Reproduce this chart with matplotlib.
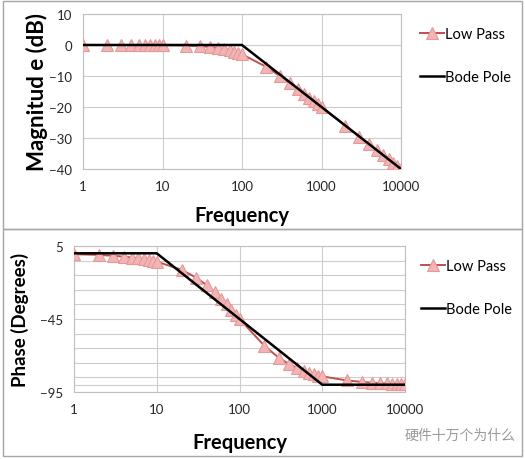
import numpy as np
import matplotlib

matplotlib.use("Agg")
import matplotlib.pyplot as plt
from matplotlib.patches import Rectangle

plt.rcParams["font.family"] = ["Lato", "DejaVu Sans"]

# frequency points of the measured low-pass response
freq = [1, 2, 3, 4, 5, 6, 7, 8, 9, 10,
        20, 30, 40, 50, 60, 70, 80, 90, 100,
        200, 300, 400, 500, 600, 700, 800, 900, 1000,
        2000, 3000, 4000, 5000, 6000, 7000, 8000, 9000, 10000]
mag_db = [0.0, 0.0, 0.0, -0.01, -0.01, -0.02, -0.02, -0.03, -0.04, -0.04,
          -0.17, -0.37, -0.64, -0.97, -1.34, -1.73, -2.15, -2.57, -3.01,
          -6.99, -10.0, -12.3, -14.15, -15.68, -16.99, -18.13, -19.13, -20.04,
          -26.03, -29.55, -32.04, -33.98, -35.56, -36.9, -38.06, -39.08, -40.0]
phase_deg = [-0.6, -1.1, -1.7, -2.3, -2.9, -3.4, -4.0, -4.6, -5.1, -5.7,
             -11.3, -16.7, -21.8, -26.6, -31.0, -35.0, -38.7, -42.0, -45.0,
             -63.4, -71.6, -76.0, -78.7, -80.5, -81.9, -82.9, -83.7, -84.3,
             -87.1, -88.1, -88.6, -88.9, -89.0, -89.2, -89.3, -89.4, -89.4]

# straight-line Bode approximations
bode_mag_f = [1, 100, 10000]
bode_mag = [0, 0, -40]
bode_ph_f = [1, 10, 1000, 10000]
bode_ph = [0, 0, -90, -90]

LP_LINE = "#C0504D"
LP_FACE = "#F2B4B4"
LP_EDGE = "#E59999"
GRID = "#CDCDCD"

fig = plt.figure(figsize=(5.25, 4.6), dpi=100)

# panel frames
for y0, h in [(230 / 460, 228 / 460), (3 / 460, 227 / 460)]:
    fig.patches.append(Rectangle((3 / 525, y0), 519 / 525, h, transform=fig.transFigure,
                                 fill=False, edgecolor="#A6A6A6", lw=1.0))


def style(ax, xpad):
    ax.set_xscale("log")
    ax.set_xlim(1, 10000)
    ax.set_xticks([1, 10, 100, 1000, 10000])
    ax.set_xticklabels(["1", "10", "100", "1000", "10000"])
    ax.minorticks_off()
    ax.grid(True, which="both", color=GRID, lw=0.8)
    ax.set_axisbelow(True)
    for s in ax.spines.values():
        s.set_color("#BFBFBF")
        s.set_linewidth(0.8)
    ax.tick_params(length=0, labelsize=9.5, colors="#262626", pad=8)
    ax.set_xlabel("Frequency", fontsize=14.5, fontweight="bold", labelpad=xpad)


def draw(ax, f, y, bf, by):
    ax.plot(f, y, color=LP_LINE, lw=1.4, marker="^", ms=8.5,
            mfc=LP_FACE, mec=LP_EDGE, mew=0.8, label="Low Pass", zorder=3)
    ax.plot(bf, by, color="black", lw=1.8, label="Bode Pole", zorder=4)
    h, l = ax.get_legend_handles_labels()
    return h, l


ax1 = fig.add_axes([83 / 525, 1 - 170 / 460, 318 / 525, 155 / 460])
style(ax1, 9)
ax1.set_ylim(-40, 10)
ax1.set_yticks([10, 0, -10, -20, -30, -40])
h, l = draw(ax1, freq, mag_db, bode_mag_f, bode_mag)
ax1.set_ylabel("Magnitud e (dB)", fontsize=16, fontweight="bold", labelpad=1)
ax1.legend(h, l, loc="upper left", bbox_to_anchor=(1.02, 1.0), frameon=False,
           fontsize=10.5, labelspacing=2.0, handlelength=1.6, handletextpad=0.1)

ax2 = fig.add_axes([74 / 525, 1 - 393 / 460, 331 / 525, 146 / 460])
style(ax2, 12)
ax2.set_ylim(-95, 5)
ax2.set_yticks([5, -45, -95])
ax2.set_yticks(list(range(-85, 5, 10)) + [-90], minor=True)
ax2.tick_params(which="minor", length=0)
ax2.grid(True, which="minor", axis="y", color=GRID, lw=0.8)
h, l = draw(ax2, freq, phase_deg, bode_ph_f, bode_ph)
ax2.set_ylabel("Phase (Degrees)", fontsize=13.5, fontweight="bold", labelpad=8)
ax2.legend(h, l, loc="upper left", bbox_to_anchor=(1.01, 1.0), frameon=False,
           fontsize=10.5, labelspacing=2.0, handlelength=1.6, handletextpad=0.1)

fig.text(405 / 525, 1 - 436 / 460, "硬件十万个为什么", fontsize=10, color="#9A9A9A",
         family=["Noto Sans CJK SC", "DejaVu Sans"], va="center")

fig.savefig("out.png", dpi=100)
